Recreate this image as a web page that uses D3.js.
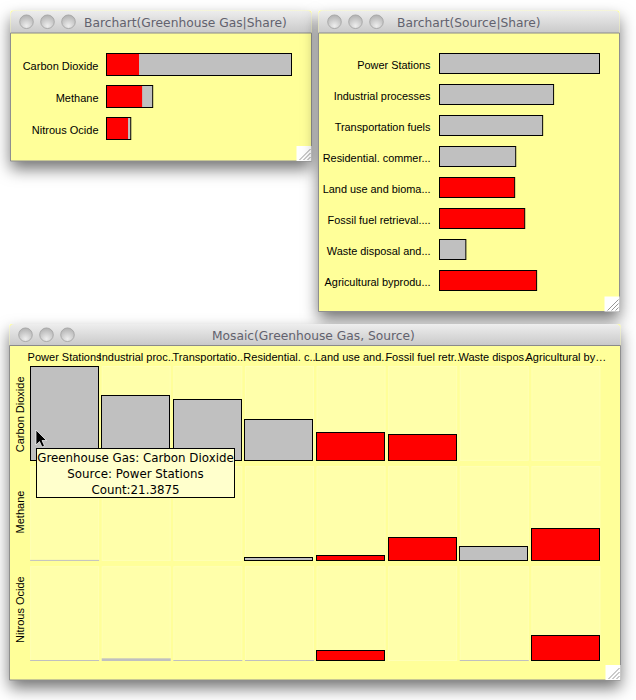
<!DOCTYPE html>
<html><head><meta charset="utf-8">
<script src="https://cdn.jsdelivr.net/npm/d3@7/dist/d3.min.js"></script>
<style>html,body{margin:0;padding:0;background:#fff}svg{display:block}</style>
</head><body><svg id="c" width="636" height="700"></svg>
<script>
// ---- data ----
const gases = ["Carbon Dioxide","Methane","Nitrous Ocide"];
const gasShare = [71.7, 17.9, 9.4];
const gasSelectedShare = [12.6, 13.8, 8.35];

const sourceLabels = ["Power Stations","Industrial processes","Transportation fuels","Residential. commer...","Land use and bioma...","Fossil fuel retrieval....","Waste disposal and...","Agricultural byprodu..."];
const sourceShare = [21.5, 15.33, 13.86, 10.24, 10.1, 11.45, 3.54, 13.05];
const sourceSelected = [false,false,false,false,true,true,false,true];

const mosaicHeaders = ["Power Stations","Industrial proc..","Transportatio..","Residential. c..","Land use and..","Fossil fuel retr..","Waste dispos..","Agricultural by…"];
const co2Counts = [21.3875, 14.77, 13.86, 9.35, 6.41, 5.96, 0, 0];
const methaneCounts = [0.06, 0, 0, 0.77, 1.22, 5.28, 3.25, 7.31];
const nitrousCounts = [0.06, 0.6, 0.06, 0.06, 2.35, 0, 0.06, 5.73];
const mosaicRows = [co2Counts, methaneCounts, nitrousCounts];

const tooltipLines = ["Greenhouse Gas: Carbon Dioxide","Source: Power Stations","Count:21.3875"];

// ---- drawing ----
const RED="#ff0000", GREY="#c0c0c0", WIN="#ffff99", CELL="#ffffaa";
const LABEL="'Liberation Sans',Arial,sans-serif", UI="'DejaVu Sans',sans-serif";
const svg=d3.select("#c");
const defs=svg.append("defs");
const tg=defs.append("linearGradient").attr("id","tb").attr("x1",0).attr("x2",0).attr("y1",0).attr("y2",1);
tg.append("stop").attr("offset",0).attr("stop-color","#eeeeee");
tg.append("stop").attr("offset",1).attr("stop-color","#c9c9c9");
const bg=defs.append("radialGradient").attr("id","btn").attr("cx",.5).attr("cy",.8).attr("r",.75);
bg.append("stop").attr("offset",0).attr("stop-color","#eeeeee");
bg.append("stop").attr("offset",1).attr("stop-color","#b4b4b4");
const f=defs.append("filter").attr("id","sh").attr("x","-20%").attr("y","-20%").attr("width","140%").attr("height","150%");
f.append("feDropShadow").attr("dx",0).attr("dy",8).attr("stdDeviation",8).attr("flood-color","#000").attr("flood-opacity",.55);

function win(x0,y0,x1,y1,title,titleX,barBottom){
  const g=svg.append("g");
  const r=5;
  g.append("rect").attr("x",x0).attr("y",y0).attr("width",x1-x0).attr("height",y1-y0).attr("rx",2)
    .attr("fill",WIN).attr("filter","url(#sh)");
  g.append("path").attr("d",`M${x0},${barBottom}V${y0+r}Q${x0},${y0} ${x0+r},${y0}H${x1-r}Q${x1},${y0} ${x1},${y0+r}V${barBottom}Z`)
    .attr("fill","url(#tb)");
  g.append("line").attr("x1",x0).attr("x2",x1).attr("y1",barBottom).attr("y2",barBottom).attr("stroke","#8a8a8a");
  g.append("path").attr("d",`M${x0},${barBottom}V${y1}H${x1}V${barBottom}`).attr("fill","none").attr("stroke","#8f8f8f");
  const cy=y0+(barBottom-y0)/2;
  [16,37,58].forEach(dx=>g.append("circle").attr("cx",x0+dx).attr("cy",cy).attr("r",6.8)
    .attr("fill","url(#btn)").attr("stroke","#a0a0a0").attr("stroke-width",.8));
  g.append("text").attr("x",titleX).attr("y",cy+5.3).attr("font-family",UI).attr("font-size",12.25)
    .attr("fill","#62626e").text(title);
  // resize handle
  const hx=x1-15,hy=y1-15;
  g.append("rect").attr("x",hx).attr("y",hy).attr("width",15).attr("height",15).attr("fill","#fff");
  [[3,14,14,3],[7,14,14,7],[11,14,14,11]].forEach(p=>g.append("line")
    .attr("x1",hx+p[0]).attr("y1",hy+p[1]).attr("x2",hx+p[2]).attr("y2",hy+p[3])
    .attr("stroke","#8a8a8a").attr("stroke-width",.9));
  return g;
}
const px=v=>Math.floor(v)+.5;

// Barchart (Greenhouse Gas | Share)
const w1=win(10.5,10.5,311.5,161,"Barchart(Greenhouse Gas|Share)",84,33);
const y1=d3.scaleBand().domain(gases).range([53,140]).paddingInner(.3);
const x1=d3.scaleLinear().domain([0,d3.max(gasShare)]).range([106.5,291.5]);
const g1=w1.selectAll("g.b").data(gases).join("g").attr("class","b");
const h1=Math.floor(y1.bandwidth());
g1.append("rect").attr("x",x1(0)).attr("y",d=>px(y1(d))).attr("height",h1)
  .attr("width",(d,i)=>x1(gasShare[i])-x1(0)).attr("fill",GREY);
g1.append("rect").attr("x",x1(0)).attr("y",d=>px(y1(d))).attr("height",h1)
  .attr("width",(d,i)=>x1(gasSelectedShare[i])-x1(0)).attr("fill",RED);
g1.append("rect").attr("x",x1(0)).attr("y",d=>px(y1(d))).attr("height",h1)
  .attr("width",(d,i)=>x1(gasShare[i])-x1(0)).attr("fill","none").attr("stroke","#000");
g1.append("text").attr("x",98.5).attr("y",d=>y1(d)+y1.bandwidth()/2+5.3).attr("text-anchor","end")
  .attr("font-family",LABEL).attr("font-size",11).attr("fill","#000").text(d=>d);

// Barchart (Source | Share)
const w2=win(318.5,10.5,619.5,311.5,"Barchart(Source|Share)",397,33);
const y2=d3.scaleBand().domain(sourceLabels).range([53.3,291.2]).paddingInner(.325);
const x2=d3.scaleLinear().domain([0,d3.max(sourceShare)]).range([439.5,599.5]);
const g2=w2.selectAll("g.b").data(sourceLabels).join("g").attr("class","b");
g2.append("rect").attr("x",x2(0)).attr("y",d=>px(y2(d))).attr("height",Math.floor(y2.bandwidth()))
  .attr("width",(d,i)=>x2(sourceShare[i])-x2(0)).attr("fill",(d,i)=>sourceSelected[i]?RED:GREY).attr("stroke","#000");
g2.append("text").attr("x",430.5).attr("y",d=>y2(d)+y2.bandwidth()/2+5.5).attr("text-anchor","end")
  .attr("font-family",LABEL).attr("font-size",10.9).attr("fill","#000").text(d=>d);

// Mosaic (Greenhouse Gas, Source)
const w3=win(9.5,324,620.5,680,"Mosaic(Greenhouse Gas, Source)",212,345.5);
const colX=d3.scaleBand().domain(d3.range(8)).range([30.1,600.4]).paddingInner(.036);
const rowY=d3.scaleBand().domain(gases).range([366,661]).paddingInner(.053);
const h=d3.scaleLinear().domain([0,d3.max(co2Counts)]).range([0,rowY.bandwidth()]);
gases.forEach((gas,ri)=>{
  const rg=w3.append("g");
  colX.domain().forEach(ci=>{
    rg.append("rect").attr("x",colX(ci)+.5).attr("y",rowY(gas)+.5).attr("width",colX.bandwidth()-1).attr("height",rowY.bandwidth()-1)
      .attr("fill",CELL).attr("stroke","#ffffb6");
  });
  mosaicRows[ri].forEach((v,ci)=>{
    if(v<=0) return;
    const bh=Math.max(1,h(v)), base=rowY(gas)+rowY.bandwidth();
    const outlined=v>=0.7;
    const top=px(base-bh), bottom=Math.ceil(base)-.5;
    rg.append("rect").attr("x",outlined?px(colX(ci)):colX(ci)).attr("y",outlined?top:base-bh)
      .attr("width",outlined?Math.floor(colX.bandwidth())-1:colX.bandwidth()).attr("height",outlined?bottom-top:bh)
      .attr("fill",sourceSelected[ci]?RED:GREY).attr("stroke",outlined?"#000":"none");
  });
  w3.append("text").attr("transform",`translate(24,${rowY(gas)+rowY.bandwidth()/2+1-ri*2.5}) rotate(-90)`)
    .attr("text-anchor","middle").attr("font-family",LABEL).attr("font-size",11).attr("fill","#000").text(gas);
});
mosaicHeaders.forEach((t,i)=>{
  w3.append("text").attr("x",colX(i)+colX.bandwidth()/2).attr("y",361).attr("text-anchor","middle")
    .attr("font-family",LABEL).attr("font-size",11).attr("fill","#000").text(t);
});
// tooltip
w3.append("rect").attr("x",36.5).attr("y",448.5).attr("width",198).attr("height",49).attr("fill","#ffffcc").attr("stroke","#000");
tooltipLines.forEach((t,i)=>{
  w3.append("text").attr("x",135.5).attr("y",461.5+i*16).attr("text-anchor","middle")
    .attr("font-family",UI).attr("font-size",11.85).attr("fill","#000").text(t);
});
// mouse pointer
w3.append("path").attr("d","M36,430V445L39.5,441.5L42,447L44.5,446L42,440.5H46.5Z")
  .attr("fill","#000").attr("stroke","#fff").attr("stroke-width",.7);
</script></body></html>
